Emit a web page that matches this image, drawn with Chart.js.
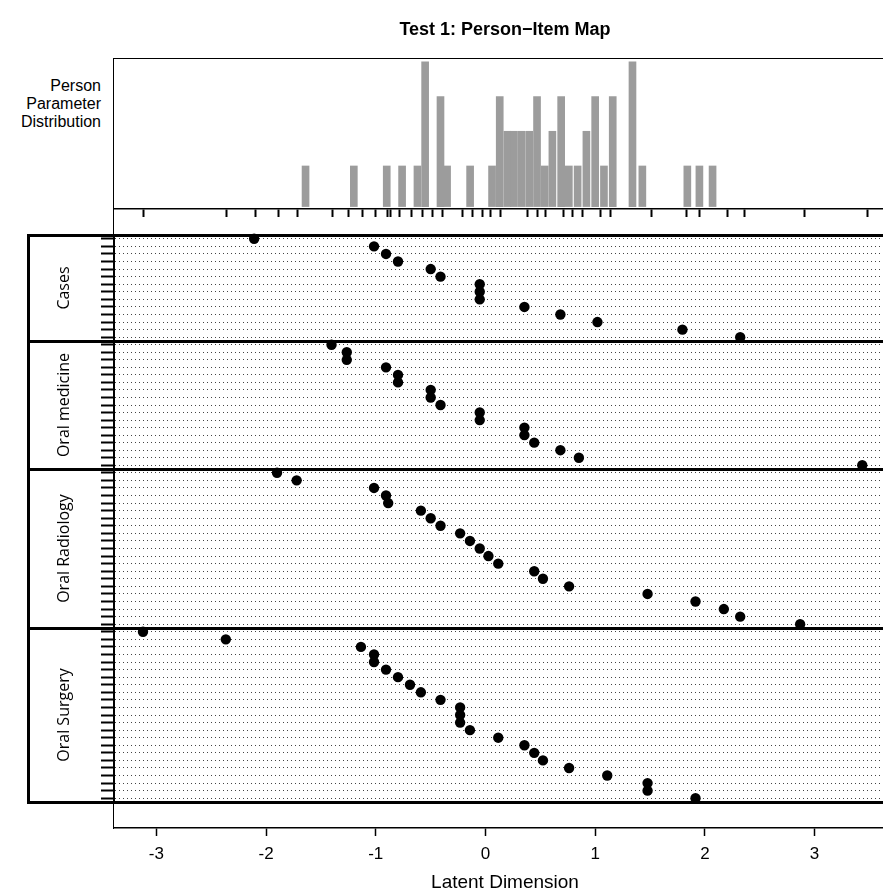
<!DOCTYPE html>
<html>
<head>
<meta charset="utf-8">
<script src="https://cdn.jsdelivr.net/npm/chart.js@4.4.1/dist/chart.umd.min.js"></script>
<style>
  html, body { margin: 0; padding: 0; background: #fff; }
  body { width: 883px; height: 894px; overflow: hidden; position: relative; }
  canvas { position: absolute; }
  .frame { position: absolute; box-sizing: border-box; }
  #plabel { position: absolute; left: 0; top: 77px; width: 101px; text-align: right;
            font: 16px "Liberation Sans", Arial, sans-serif; line-height: 18px; color: #000; }
</style>
</head>
<body>
<div id="plabel">Person<br>Parameter<br>Distribution</div>
<script>
// ---------------- data ----------------
const xMin = -3.386;
const xMax = 3.742;
const xTickValues = [-3, -2, -1, 0, 1, 2, 3];

// person parameter histogram (location, count)
const personLocations = [-1.64, -1.20, -0.90, -0.76, -0.62, -0.55, -0.41, -0.35, -0.14,
  0.06, 0.13, 0.20, 0.26, 0.33, 0.40, 0.47, 0.54, 0.61, 0.69, 0.76, 0.84, 0.92, 1.00,
  1.08, 1.16, 1.34, 1.43, 1.84, 1.95, 2.07];
const personCounts = [1, 1, 1, 1, 1, 4, 3, 1, 1,
  1, 3, 2, 2, 2, 2, 3, 1, 2, 3, 1, 1, 2, 3,
  1, 3, 4, 1, 1, 1, 1];

const panelNames = ['Cases', 'Oral medicine', 'Oral Radiology', 'Oral Surgery'];

// item locations, top to bottom in each panel
const casesItems = [-2.10, -1.00, -0.89, -0.78, -0.48, -0.39, -0.03, -0.03, -0.03,
  0.38, 0.71, 1.05, 1.83, 2.36];
const oralMedicineItems = [-1.39, -1.25, -1.25, -0.89, -0.78, -0.78, -0.48, -0.48, -0.39,
  -0.03, -0.03, 0.38, 0.38, 0.47, 0.71, 0.88, 3.48];
const oralRadiologyItems = [-1.89, -1.71, -1.00, -0.89, -0.87, -0.57, -0.48, -0.39, -0.21,
  -0.12, -0.03, 0.05, 0.14, 0.47, 0.55, 0.79, 1.51, 1.95, 2.21, 2.36, 2.91];
const oralSurgeryItems = [-3.12, -2.36, -1.12, -1.00, -1.00, -0.89, -0.78, -0.67, -0.57,
  -0.39, -0.21, -0.21, -0.21, -0.12, 0.14, 0.38, 0.47, 0.55, 0.79, 1.14, 1.51, 1.51, 1.95];

const panelItems = [casesItems, oralMedicineItems, oralRadiologyItems, oralSurgeryItems];

// ---------------- layout ----------------
const PLOT_LEFT = 114, PLOT_W = 782;
const PANEL_LEFT = 28, PANELS_TOP = 235, ROW_PX = 7.56;
const HIST_TOP = 59, HIST_BOTTOM = 209, AXIS_Y = 828;
const FONT = '"Liberation Sans", Arial, sans-serif';

Chart.defaults.font.family = FONT;
Chart.defaults.color = '#000';
Chart.defaults.animation = false;
Chart.defaults.events = [];
Chart.defaults.plugins.legend.display = false;
Chart.defaults.plugins.tooltip.enabled = false;

function makeCanvas(left, top, w, h) {
  const c = document.createElement('canvas');
  c.width = w; c.height = h;
  c.style.left = left + 'px'; c.style.top = top + 'px';
  c.style.width = w + 'px'; c.style.height = h + 'px';
  document.body.appendChild(c);
  return c;
}
function makeFrame(left, top, w, h, css) {
  const d = document.createElement('div');
  d.className = 'frame';
  d.style.left = left + 'px'; d.style.top = top + 'px';
  d.style.width = w + 'px'; d.style.height = h + 'px';
  Object.assign(d.style, css);
  document.body.appendChild(d);
}

// R plot box (top + left)
makeFrame(PLOT_LEFT - 1, HIST_TOP - 1, 900, AXIS_Y - HIST_TOP + 2,
  { borderTop: '1.5px solid #000', borderLeft: '1.5px solid #000' });

// panel boundaries proportional to item counts
const bounds = [PANELS_TOP];
let cum = 0;
panelItems.forEach(arr => { cum += arr.length; bounds.push(Math.round(PANELS_TOP + cum * ROW_PX)); });

// panel frames
panelItems.forEach((arr, i) => {
  makeFrame(PANEL_LEFT - 1, bounds[i] - 1, 900, bounds[i + 1] - bounds[i] + 3,
    { border: '3px solid #000' });
});

const rugValues = [...new Set(panelItems.flat())].sort((a, b) => a - b);

// ---------------- histogram chart ----------------
new Chart(makeCanvas(PLOT_LEFT, 0, PLOT_W, HIST_BOTTOM + 10), {
  type: 'bar',
  data: {
    datasets: [{
      data: personLocations.map((v, i) => ({ x: v, y: personCounts[i] })),
      backgroundColor: '#9c9c9c',
      borderWidth: 0,
      barThickness: 7,
      base: -0.17
    }]
  },
  options: {
    responsive: false, devicePixelRatio: 1,
    layout: { padding: 0 },
    plugins: {
      title: {
        display: true,
        text: 'Test 1: Person\u2212Item Map',
        font: { family: FONT, size: 18, weight: 'bold', lineHeight: 1.2 },
        color: '#000',
        padding: { top: 19, bottom: 18.4 }
      }
    },
    scales: {
      x: {
        type: 'linear', min: xMin, max: xMax, offset: false,
        afterBuildTicks: s => { s.ticks = rugValues.map(v => ({ value: v })); },
        afterFit: s => { s.height = 10; },
        ticks: { display: false, autoSkip: false },
        grid: { display: true, offset: false, drawOnChartArea: false, drawTicks: true,
                tickLength: 8, tickWidth: 2, tickColor: '#000' },
        border: { display: true, width: 1.5, color: '#000' }
      },
      y: { type: 'linear', min: -0.24, max: 4.083, display: false }
    }
  }
});

// ---------------- item panels ----------------
panelItems.forEach((arr, i) => {
  const top = bounds[i], h = bounds[i + 1] - bounds[i];
  const rows = arr.map((_, k) => k + 1);
  new Chart(makeCanvas(PANEL_LEFT, top - 6, PLOT_W + (PLOT_LEFT - PANEL_LEFT), h + 12), {
    type: 'scatter',
    data: {
      datasets: [{
        data: arr.map((v, k) => ({ x: v, y: rows[k] })),
        backgroundColor: '#000',
        borderWidth: 0,
        pointRadius: 5.2,
        pointHoverRadius: 5.2,
        clip: false
      }]
    },
    options: {
      responsive: false, devicePixelRatio: 1,
      layout: { padding: { top: 6, bottom: 6, left: 0, right: 0 } },
      scales: {
        x: { type: 'linear', min: xMin, max: xMax, display: false },
        y: {
          type: 'linear', reverse: true, min: 0.5, max: arr.length + 0.5,
          afterBuildTicks: s => { s.ticks = rows.map(v => ({ value: v })); },
          afterFit: s => { s.width = PLOT_LEFT - PANEL_LEFT; },
          ticks: { display: false, autoSkip: false },
          grid: { display: true, drawOnChartArea: true, drawTicks: true, color: '#444', lineWidth: 1,
                  tickLength: 13, tickWidth: 2, tickColor: '#000' },
          border: { display: true, width: 2, color: '#000', dash: [1, 3] },
          title: {
            display: true, text: panelNames[i], color: '#000',
            font: { family: '"Open Sans", "Noto Sans", sans-serif', size: 16, lineHeight: 1.2 },
            padding: { top: 27, bottom: 0 }
          }
        }
      }
    }
  });
});

// ---------------- bottom x axis ----------------
const axisTop = bounds[4] + 1;
new Chart(makeCanvas(PLOT_LEFT, axisTop, PLOT_W, 894 - axisTop), {
  type: 'scatter',
  data: { datasets: [{ data: [] }] },
  options: {
    responsive: false, devicePixelRatio: 1,
    layout: { padding: 0 },
    scales: {
      x: {
        type: 'linear', min: xMin, max: xMax, position: 'bottom',
        afterBuildTicks: s => { s.ticks = xTickValues.map(v => ({ value: v })); },
        afterFit: s => { s.height = 894 - AXIS_Y; },
        ticks: { display: true, autoSkip: false, maxRotation: 0, padding: 8,
                 font: { family: FONT, size: 17, lineHeight: 1.2 }, color: '#000' },
        grid: { display: true, drawOnChartArea: false, drawTicks: true,
                tickLength: 8, tickWidth: 1.5, tickColor: '#000' },
        border: { display: true, width: 1.5, color: '#000' },
        title: { display: true, text: 'Latent Dimension', color: '#000',
                 font: { family: FONT, size: 19, lineHeight: 1.2 },
                 padding: { top: 0, bottom: 0 } }
      },
      y: { display: false, min: 0, max: 1 }
    }
  }
});
</script>
</body>
</html>
